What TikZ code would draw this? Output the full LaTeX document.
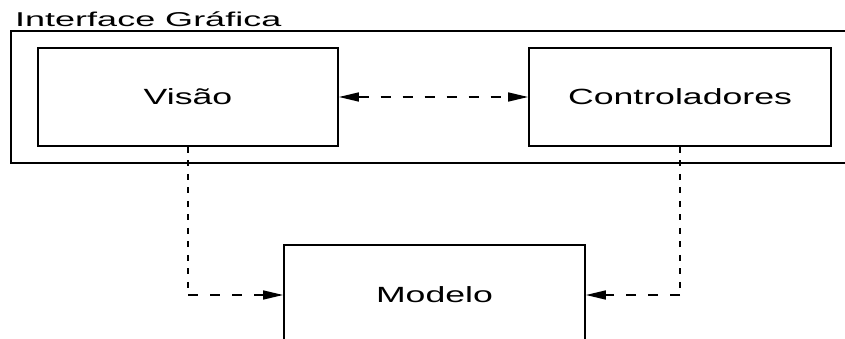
\documentclass[tikz,border=0pt]{standalone}
\usepackage{fontspec}
\setmainfont{Liberation Sans}
\newfontfamily\widefont[FakeStretch=1.62]{Liberation Sans}
\newfontfamily\widerfont[FakeStretch=1.8]{Liberation Sans}
\usetikzlibrary{arrows.meta}
\tikzset{
  box/.style={draw, line width=1.8pt, inner sep=0pt, minimum width=300pt, minimum height=98pt,
    font=\widefont\fontsize{22}{26}\selectfont},
  vdash/.style={line width=1.9pt, dash pattern=on 6pt off 7.5pt},
  hdash/.style={line width=1.6pt, dash pattern=on 10pt off 12pt},
  tip/.style={-{Triangle[length=20pt,width=9pt]}},
}
\begin{document}
\begin{tikzpicture}[x=1pt,y=-1pt]
\useasboundingbox (0,0) rectangle (845,339);
\clip (0,0) rectangle (845,339);
\node[draw, line width=1.4pt, inner sep=0pt, minimum width=859pt, minimum height=132pt] (ui) at (440.5,97) {};
\node[anchor=base west, inner sep=0pt, font=\widerfont\fontsize{20}{24}\selectfont] (lbl) at (15,27) {Interface Gráfica};
\node[box] (vis) at (188,97) {Visão};
\node[box, minimum width=302pt] (ctl) at (680,97) {Controladores};
\node[box, minimum width=301pt, minimum height=100pt] (mod) at (434.5,295) {Modelo};
\coordinate (cl) at (vis.south |- mod.west);
\coordinate (cr) at (ctl.south |- mod.east);
\draw[vdash] (vis.south) -- (cl);
\draw[hdash, tip] (cl) -- (mod.west);
\draw[vdash] (ctl.south) -- (cr);
\draw[hdash, tip] (cr) -- (mod.east);
\draw[hdash, {Triangle[length=20pt,width=9pt]}-{Triangle[length=20pt,width=9pt]}] (vis.east) -- (ctl.west);
\end{tikzpicture}
\end{document}
